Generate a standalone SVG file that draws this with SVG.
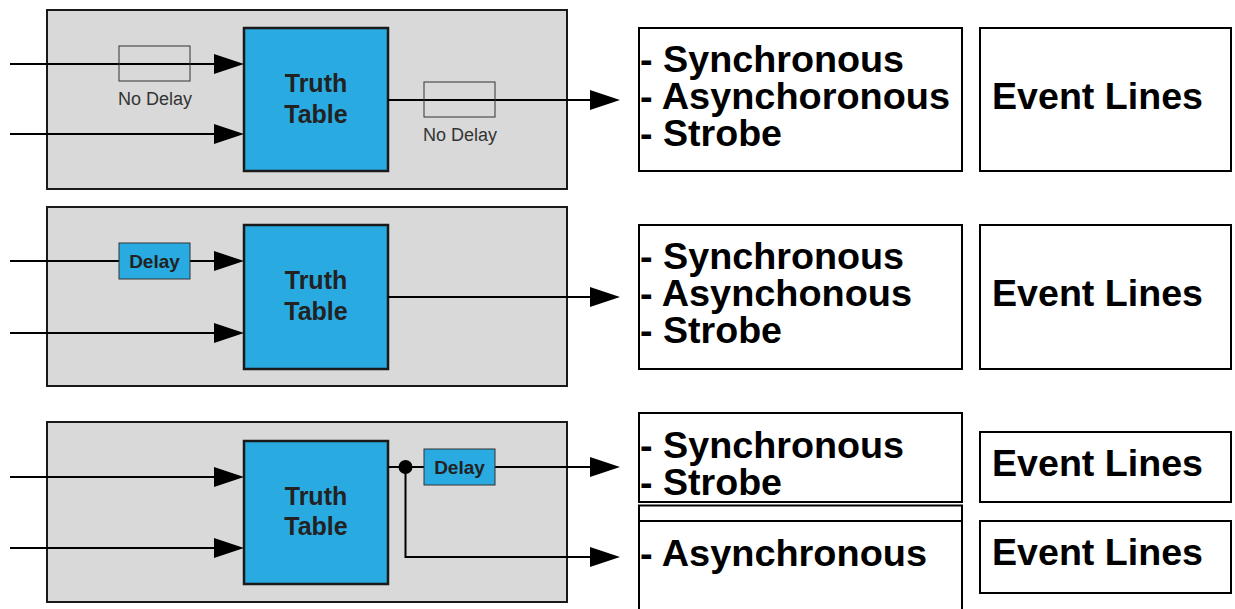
<svg xmlns="http://www.w3.org/2000/svg" width="1235" height="609" viewBox="0 0 1235 609">
<style>
.panel{fill:#d9d9d9;stroke:#1a1a1a;stroke-width:2}
.tt{fill:#29abe2;stroke:#1a1a1a;stroke-width:2.5}
.ttx{font-family:"Liberation Sans",Arial,sans-serif;font-weight:bold;font-size:25px;fill:#222;text-anchor:middle}
.nd{fill:none;stroke:#333;stroke-width:1}
.ndx{font-family:"Liberation Sans",Arial,sans-serif;font-size:18px;fill:#333;text-anchor:middle}
.dl{fill:#29abe2;stroke:#333;stroke-width:1}
.dlx{font-family:"Liberation Sans",Arial,sans-serif;font-weight:bold;font-size:19px;fill:#222;text-anchor:middle}
.box{fill:#fff;stroke:#000;stroke-width:2}
.big{font-family:"Liberation Sans",Arial,sans-serif;font-weight:bold;font-size:36px;fill:#000}
.w{fill:none;stroke:#000;stroke-width:2}
</style>
<defs>
<marker id="ah" markerUnits="userSpaceOnUse" markerWidth="31" markerHeight="22" refX="20" refY="11" orient="auto" viewBox="0 0 31 22">
<path d="M0,1 L30,11 L0,21 z" fill="#000"/>
</marker>
</defs>

<g id="panel1">
<rect class="panel" x="47" y="10" width="520" height="179"/>
<rect class="tt" x="244" y="28" width="144" height="143"/>
<text class="ttx" x="316" y="92">Truth</text>
<text class="ttx" x="316" y="123">Table</text>
</g>
<g id="panel2">
<rect class="panel" x="47" y="207" width="520" height="179"/>
<rect class="tt" x="244" y="225" width="144" height="144"/>
<text class="ttx" x="316" y="289">Truth</text>
<text class="ttx" x="316" y="320">Table</text>
</g>
<g id="panel3">
<rect class="panel" x="47" y="422" width="520" height="180"/>
<rect class="tt" x="244" y="441" width="144" height="143"/>
<text class="ttx" x="316" y="505">Truth</text>
<text class="ttx" x="316" y="535">Table</text>
</g>

<g id="connectors">
<line class="w" x1="10" y1="64" x2="234" y2="64" marker-end="url(#ah)"/>
<line class="w" x1="10" y1="134" x2="234" y2="134" marker-end="url(#ah)"/>
<line class="w" x1="388" y1="100" x2="610" y2="100" marker-end="url(#ah)"/>
<line class="w" x1="10" y1="261" x2="234" y2="261" marker-end="url(#ah)"/>
<line class="w" x1="10" y1="333" x2="234" y2="333" marker-end="url(#ah)"/>
<line class="w" x1="388" y1="297" x2="610" y2="297" marker-end="url(#ah)"/>
<line class="w" x1="10" y1="477" x2="234" y2="477" marker-end="url(#ah)"/>
<line class="w" x1="10" y1="548" x2="234" y2="548" marker-end="url(#ah)"/>
<line class="w" x1="388" y1="467" x2="610" y2="467" marker-end="url(#ah)"/>
<polyline class="w" points="405.5,467 405.5,557 610,557" marker-end="url(#ah)"/>
<circle cx="405.5" cy="467" r="7" fill="#000"/>
</g>

<g id="nodelay1">
<rect class="nd" x="119" y="46" width="71" height="35"/>
<text class="ndx" x="155" y="105">No Delay</text>
</g>
<g id="nodelay2">
<rect class="nd" x="424" y="82" width="71" height="35"/>
<text class="ndx" x="460" y="141">No Delay</text>
</g>
<g id="delay1">
<rect class="dl" x="119" y="243" width="71" height="36"/>
<text class="dlx" x="154.5" y="268">Delay</text>
</g>
<g id="delay2">
<rect class="dl" x="424" y="449" width="71" height="36"/>
<text class="dlx" x="459.5" y="474">Delay</text>
</g>

<g id="modes1">
<rect class="box" x="639" y="28" width="323" height="143"/>
<text class="big" x="640" y="72" textLength="264" lengthAdjust="spacingAndGlyphs">- Synchronous</text>
<text class="big" x="640" y="109" textLength="310" lengthAdjust="spacingAndGlyphs">- Asynchoronous</text>
<text class="big" x="640" y="146" textLength="142" lengthAdjust="spacingAndGlyphs">- Strobe</text>
</g>
<g id="events1">
<rect class="box" x="980" y="28" width="251" height="143"/>
<text class="big" x="992" y="109" textLength="211" lengthAdjust="spacingAndGlyphs">Event Lines</text>
</g>
<g id="modes2">
<rect class="box" x="639" y="225" width="323" height="144"/>
<text class="big" x="640" y="269" textLength="264" lengthAdjust="spacingAndGlyphs">- Synchronous</text>
<text class="big" x="640" y="306" textLength="272" lengthAdjust="spacingAndGlyphs">- Asynchonous</text>
<text class="big" x="640" y="343" textLength="142" lengthAdjust="spacingAndGlyphs">- Strobe</text>
</g>
<g id="events2">
<rect class="box" x="980" y="225" width="251" height="144"/>
<text class="big" x="992" y="306" textLength="211" lengthAdjust="spacingAndGlyphs">Event Lines</text>
</g>
<g id="modes3">
<rect class="box" x="639" y="413" width="323" height="89"/>
<text class="big" x="640" y="458" textLength="264" lengthAdjust="spacingAndGlyphs">- Synchronous</text>
<text class="big" x="640" y="495" textLength="142" lengthAdjust="spacingAndGlyphs">- Strobe</text>
</g>
<g id="modes4">
<rect class="box" x="639" y="505.5" width="323" height="130"/>
<line x1="639" y1="521" x2="962" y2="521" stroke="#000" stroke-width="2"/>
<text class="big" x="640" y="566" textLength="287" lengthAdjust="spacingAndGlyphs">- Asynchronous</text>
</g>
<g id="events3">
<rect class="box" x="980" y="432" width="251" height="70"/>
<text class="big" x="992" y="476" textLength="211" lengthAdjust="spacingAndGlyphs">Event Lines</text>
</g>
<g id="events4">
<rect class="box" x="980" y="521" width="251" height="72"/>
<text class="big" x="992" y="565" textLength="211" lengthAdjust="spacingAndGlyphs">Event Lines</text>
</g>
</svg>
